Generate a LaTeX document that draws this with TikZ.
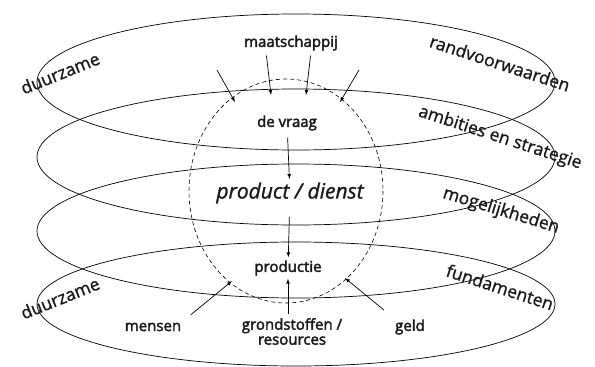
\documentclass[tikz,border=0pt]{standalone}
\usepackage{fontspec}
\setmainfont{Open Sans}
\newfontfamily\semibold{Open Sans}[FakeBold=2.5]
\newfontfamily\medium{Open Sans}[FakeBold=1.2]
\usetikzlibrary{positioning}

\tikzset{
  ring/.style={draw, line width=0.7pt},
  rim/.style={font=\medium\fontsize{17.5}{20}\selectfont, inner sep=0pt, text=black!90},
  item/.style={font=\semibold\fontsize{15}{15}\selectfont, inner sep=1pt, align=center, text=black!90},
  flow/.style={-latex, line width=0.7pt}
}

\begin{document}
\begin{tikzpicture}[x=1pt,y=-1pt]
  \useasboundingbox (0,0) rectangle (595,367);

  % the four layers
  \draw[ring] (296,82)  ellipse [x radius=259, y radius=68];
  \draw[ring] (296,157) ellipse [x radius=259, y radius=68];
  \draw[ring] (296,231) ellipse [x radius=259, y radius=67];
  \draw[ring] (296,304) ellipse [x radius=259, y radius=62];

  % the core
  \draw[dashed, line width=0.6pt, dash pattern=on 4pt off 3pt] (286,191) ellipse [x radius=97, y radius=112];

  \begin{scope}[every node/.style={rim}]
    \node[rotate=22]  (duurtop) at (60,73)   {duurzame};
    \node[rotate=22]  (duurbot) at (60,298)  {duurzame};
    \node[rotate=-18] (rand)    at (500,63)  {randvoorwaarden};
    \node[rotate=-18] (ambitie) at (500,138) {ambities en strategie};
    \node[rotate=-17] (moge)    at (501,211) {mogelijkheden};
    \node[rotate=-18] (fund)    at (500,287) {fundamenten};
  \end{scope}

  \begin{scope}[every node/.style={item}]
    \node (maat)      at (291,43)  {maatschappij};
    \node (vraag)     at (287,123) {de vraag};
    \node (productie) at (288,268) {productie};
    \node (mensen)    at (153,327) {mensen};
    \node[anchor=north] (grond) at (292,317) {grondstoffen /\\resources};
    \node (geld)      at (410,327) {geld};
  \end{scope}
  \node[font=\medium\itshape\fontsize{21}{24}\selectfont, text=black!90] (prod) at (290,193) {product / dienst};

  % free ends
  \coordinate (maatl) at (271,95);
  \coordinate (maatr) at (306,95);
  \coordinate (tlout) at (217,70);
  \coordinate (tlin)  at (235,102);
  \coordinate (trout) at (359,70);
  \coordinate (trin)  at (340,102);
  \coordinate (mensin) at (232,281);
  \coordinate (geldin) at (345,278);

  \begin{scope}[every path/.style={flow}]
    \draw[shorten <=4pt] ([xshift=-25pt]maat.south) -- (maatl);
    \draw[shorten <=4pt] ([xshift=20pt]maat.south) -- (maatr);
    \draw (tlout) -- (tlin);
    \draw (trout) -- (trin);
    \draw[shorten <=6pt] (vraag) -- (prod);
    \draw[shorten <=10pt, shorten >=2pt] (prod) -- (productie);
    \draw[shorten <=3pt, shorten >=2pt] (grond.north -| productie.south) -- (productie.south);
    \draw[shorten <=11pt] (mensen.north east) -- (mensin);
    \draw[shorten <=13pt] (geld.north west) -- (geldin);
  \end{scope}

\end{tikzpicture}
\end{document}
